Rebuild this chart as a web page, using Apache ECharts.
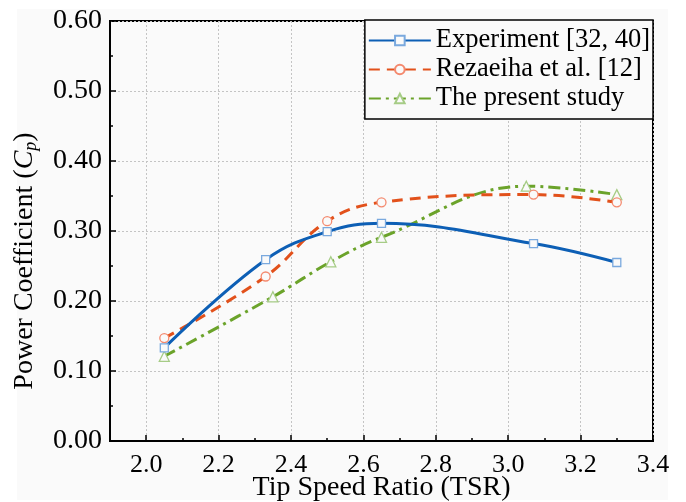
<!DOCTYPE html>
<html>
<head>
<meta charset="utf-8">
<script src="https://cdn.jsdelivr.net/npm/echarts@6/dist/echarts.min.js"></script>
<style>
  html, body { margin: 0; padding: 0; background: #ffffff; }
  #chart { width: 686px; height: 502px; }
</style>
</head>
<body>
<div id="chart"></div>
<script>
// values
const tsrExp = [2.05, 2.33, 2.50, 2.65, 3.07, 3.30]
const cpExp = [0.133, 0.259, 0.299, 0.311, 0.282, 0.255]
const tsrRez = [2.05, 2.33, 2.50, 2.65, 3.07, 3.30]
const cpRez = [0.147, 0.235, 0.314, 0.341, 0.352, 0.341]
const tsrPresent = [2.05, 2.35, 2.51, 2.65, 3.05, 3.30]
const cpPresent = [0.121, 0.206, 0.256, 0.291, 0.364, 0.352]
const xTicks = [2.0, 2.2, 2.4, 2.6, 2.8, 3.0, 3.2, 3.4]
const xMinorTicks = [2.1, 2.3, 2.5, 2.7, 2.9, 3.1, 3.3]
const names = ["Experiment [32, 40]", "Rezaeiha et al. [12]", "The present study"]

const serif = '"Liberation Serif", "Times New Roman", serif'
const panelBg = '#fafafa'

function pairs(xs, ys) {
    return xs.map((x, i) => [x, ys[i]])
}

let chartDom = document.getElementById('chart')
let myChart = echarts.init(chartDom, null, {renderer: 'canvas'})

let option = {
    animation: false,
    backgroundColor: '#ffffff',
    graphic: [{
        type: 'rect',
        z: -10,
        shape: {x: 17, y: 9, width: 651, height: 491},
        style: {fill: panelBg}
    }],
    grid: {
        left: 110, right: 33, top: 21, bottom: 61,
        outerBoundsMode: 'none',
        containLabel: false,
        show: true,
        borderColor: '#000',
        borderWidth: 2,
        backgroundColor: 'transparent'
    },
    legend: {
        data: names,
        right: 33,
        top: 20,
        orient: 'vertical',
        align: 'left',
        itemWidth: 62,
        itemHeight: 12,
        itemGap: 0,
        padding: [6, 3, 6, 3],
        borderColor: '#000',
        borderWidth: 1.5,
        backgroundColor: panelBg,
        textStyle: {fontFamily: serif, fontSize: 26.5, color: '#000', lineHeight: 29}
    },
    xAxis: [{
        type: 'value',
        min: 1.9,
        max: 3.4,
        name: 'Tip Speed Ratio (TSR)',
        nameLocation: 'middle',
        nameGap: 33,
        nameMoveOverlap: false,
        nameTextStyle: {fontFamily: serif, fontSize: 28, color: '#000'},
        axisLine: {lineStyle: {color: '#000', width: 2}},
        axisTick: {inside: true, length: 6, customValues: xTicks, lineStyle: {color: '#000', width: 1.5}},
        axisLabel: {
            customValues: xTicks,
            formatter: v => v.toFixed(1),
            fontFamily: serif, fontSize: 26, color: '#000', margin: 11
        },
        splitLine: {show: true, lineStyle: {color: '#c4c4c4', width: 1, type: [2, 2]}}
    }, {
        type: 'value',
        min: 1.9,
        max: 3.4,
        position: 'bottom',
        axisLine: {show: false},
        axisTick: {inside: true, length: 3, customValues: xMinorTicks, lineStyle: {color: '#000', width: 1.5}},
        axisLabel: {show: false},
        splitLine: {show: false}
    }],
    yAxis: {
        type: 'value',
        min: 0,
        max: 0.6,
        interval: 0.1,
        name: 'Power Coefficient ({i|C}{s|p})',
        nameLocation: 'middle',
        nameRotate: 90,
        nameGap: 70,
        nameMoveOverlap: false,
        nameTextStyle: {
            fontFamily: serif, fontSize: 28, color: '#000',
            padding: [0, 60, 0, 0],
            rich: {
                i: {fontFamily: serif, fontSize: 28, fontStyle: 'italic', color: '#000'},
                s: {fontFamily: serif, fontSize: 18, fontStyle: 'italic', color: '#000', padding: [12, 0, 0, 0]}
            }
        },
        axisLine: {show: true, lineStyle: {color: '#000', width: 2}},
        axisTick: {show: true, inside: true, length: 6, lineStyle: {color: '#000', width: 1.5}},
        minorTick: {show: true, splitNumber: 2, length: 3, lineStyle: {color: '#000', width: 1.5}},
        axisLabel: {
            formatter: v => v.toFixed(2),
            fontFamily: serif, fontSize: 28, color: '#000', margin: 8
        },
        splitLine: {show: true, lineStyle: {color: '#c4c4c4', width: 1, type: [2, 2]}}
    },
    series: [{
        name: names[0],
        type: 'line',
        data: pairs(tsrExp, cpExp),
        smooth: 0.4,
        symbol: 'rect',
        symbolSize: 8,
        lineStyle: {color: '#0d5fb5', width: 3},
        itemStyle: {color: panelBg, borderColor: '#7aa9de', borderWidth: 1.3},
        z: 4
    }, {
        name: names[1],
        type: 'line',
        data: pairs(tsrRez, cpRez),
        smooth: 0.4,
        symbol: 'circle',
        symbolSize: 9,
        lineStyle: {color: '#e2511b', width: 3, type: [11, 7]},
        itemStyle: {color: panelBg, borderColor: '#f48a6f', borderWidth: 1.3},
        z: 3
    }, {
        name: names[2],
        type: 'line',
        data: pairs(tsrPresent, cpPresent),
        smooth: 0.4,
        symbol: 'triangle',
        symbolSize: 10,
        lineStyle: {color: '#6ba32a', width: 3, type: [12, 5, 3, 5]},
        itemStyle: {color: panelBg, borderColor: '#a6cc86', borderWidth: 1.3},
        z: 2
    }]
}

myChart.setOption(option)
window.addEventListener('resize', () => {
    myChart.resize()
})
</script>
</body>
</html>
